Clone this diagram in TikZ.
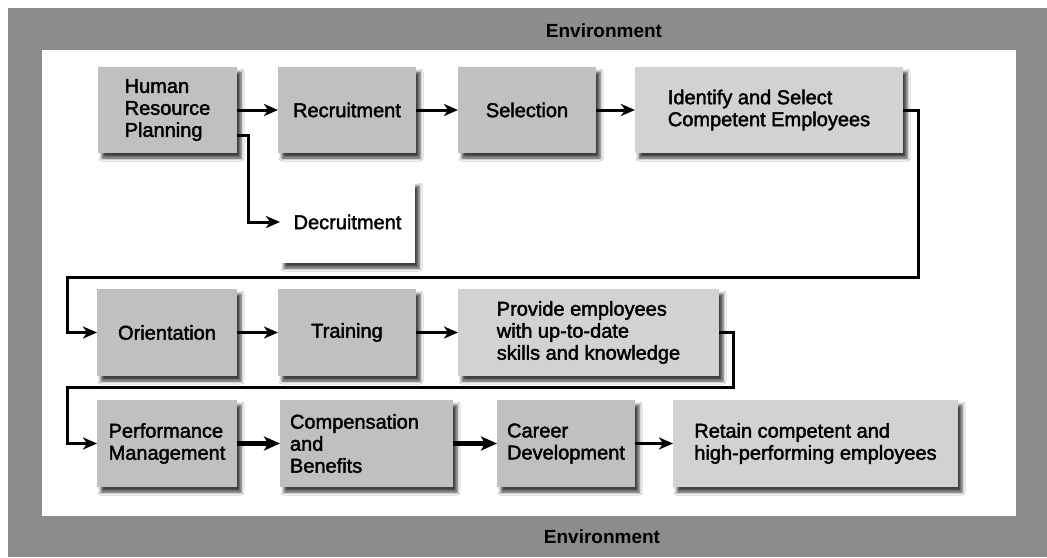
\documentclass[tikz,border=0pt]{standalone}
\usepackage{fontspec}
\setmainfont{Liberation Sans}
\newfontfamily\boxfont[RawFeature={embolden=2}]{Liberation Sans}
\usepackage{xcolor}
\usetikzlibrary{arrows.meta}
\usetikzlibrary{shadows.blur}
\definecolor{framegray}{RGB}{140,140,140}
\definecolor{stagegray}{RGB}{192,192,192}
\definecolor{goalgray}{RGB}{210,210,210}

\begin{document}
\begin{tikzpicture}[x=1pt,y=-1pt]
    \tikzstyle{stage}=[fill=stagegray,inner sep=0pt,outer sep=0pt,minimum height=86pt,align=left,font={\boxfont\fontsize{20}{22}\selectfont},blur shadow={shadow xshift=4pt,shadow yshift=-5pt,shadow blur radius=3pt,shadow opacity=75}]
    \tikzstyle{goal}=[stage,fill=goalgray]
    \tikzstyle{env}=[font={\bfseries\fontsize{19}{21}\selectfont}]
    \tikzstyle{link}=[draw,line width=3pt,black,-{Stealth[length=14pt,width=12pt,inset=4pt]}]
    \tikzstyle{heavylink}=[link,line width=4.5pt,-{Stealth[length=16pt,width=14pt,inset=4pt]}]
    \useasboundingbox (0,0) rectangle (1047,557);
    % environment frame
    \fill[framegray] (8,8) rectangle (1047,557);
    \fill[white] (42,50) rectangle (1016,516);
    \node[env] (envtop) at (604,31) {Environment};
    \node[env] (envbot) at (602,537) {Environment};
    % first row
    \node[stage,minimum width=139pt] (hrp) at (167.5,110) {Human\\Resource\\Planning};
    \node[stage,minimum width=138pt] (rec) at (347,110) {Recruitment};
    \node[stage,minimum width=138pt] (sel) at (527,110) {Selection};
    \node[goal,minimum width=268pt] (ident) at (769,110) {Identify and Select\\Competent Employees};
    \node[stage,fill=white,minimum width=135pt,minimum height=82pt] (dec) at (347.5,222) {Decruitment};
    % second row
    \node[stage,minimum width=140pt,minimum height=87pt] (ori) at (167,332.5) {Orientation};
    \node[stage,minimum width=138pt,minimum height=87pt] (tra) at (347,332.5) {Training};
    \node[goal,minimum width=261pt,minimum height=87pt] (prov) at (588.5,332.5) {Provide employees\\with up-to-date\\skills and knowledge};
    % third row
    \node[stage,minimum width=140pt,minimum height=87pt] (perf) at (167,443.5) {Performance\\Management};
    \node[stage,minimum width=173pt,minimum height=87pt,text width=153pt] (comp) at (366.5,443.5) {Compensation\\and\\Benefits};
    \node[stage,minimum width=138pt,minimum height=87pt] (car) at (566,443.5) {Career\\Development};
    \node[goal,minimum width=285pt,minimum height=87pt] (ret) at (815.5,443.5) {Retain competent and\\high-performing employees};
    % bends
    \coordinate (turnA) at (918,277);
    \coordinate (turnB) at (67,277);
    \coordinate (turnC) at (733,387);
    \coordinate (turnD) at (67,387);
    % arrows
    \draw[link] (hrp) -- (rec);
    \draw[link] (rec) -- (sel);
    \draw[link] (sel) -- (ident);
    \draw[link] ([yshift=-25pt]hrp.east) -- ++(11,0) |- (dec.west);
    \draw[link] (ident.east) -| (turnA) -- (turnB) |- (ori.west);
    \draw[link] (ori) -- (tra);
    \draw[link] (tra) -- (prov);
    \draw[link] (prov.east) -| (turnC) -- (turnD) |- (perf.west);
    \draw[heavylink] (perf) -- (comp);
    \draw[heavylink] (comp) -- (car);
    \draw[link] (car) -- (ret);
\end{tikzpicture}
\end{document}
